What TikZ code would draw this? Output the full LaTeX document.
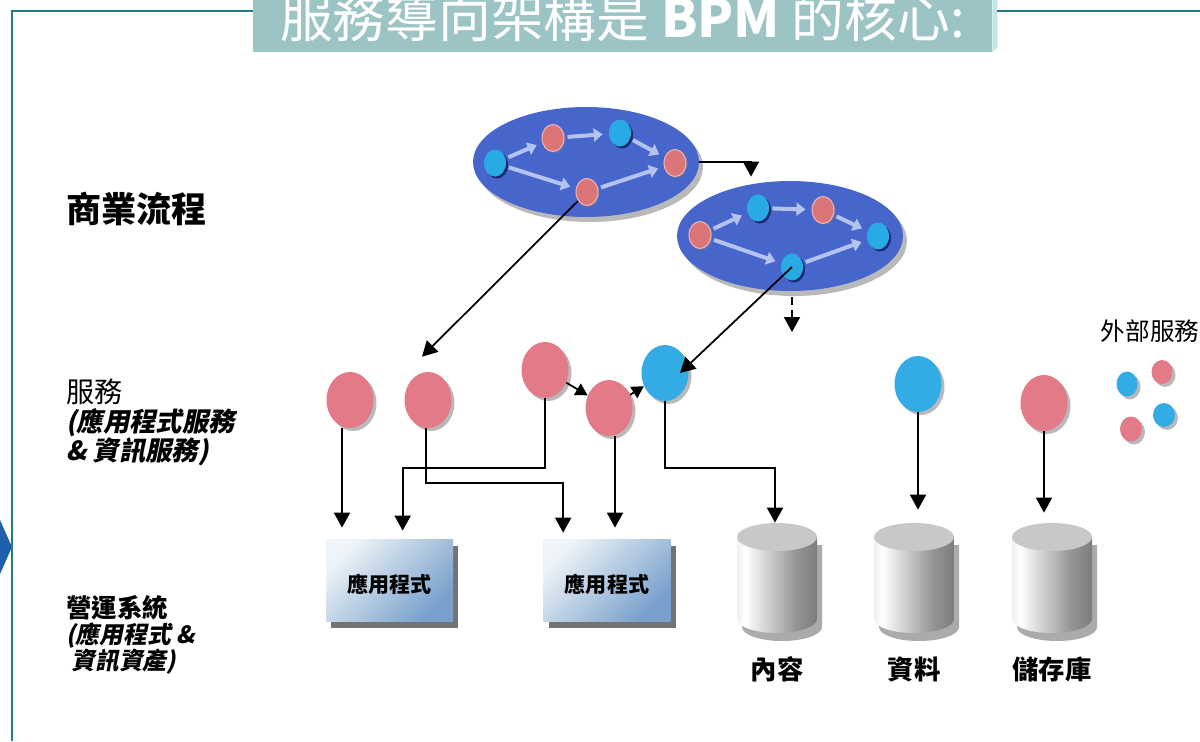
\documentclass[tikz,border=0pt]{standalone}
\usepackage{fontspec}
\setmainfont{Noto Sans CJK TC}
\newfontfamily\slantbf[FakeSlant=0.2,BoldFeatures={FakeSlant=0.2}]{Noto Sans CJK TC}
\usepackage{tikz}
\usetikzlibrary{positioning,shapes.geometric,shadows,arrows.meta}
\definecolor{frameteal}{RGB}{35,123,125}
\definecolor{titlebg}{RGB}{157,196,196}
\definecolor{titlebevel}{RGB}{192,230,230}
\definecolor{chevblue}{RGB}{30,96,172}
\definecolor{procblue}{RGB}{70,102,204}
\definecolor{ballpink}{RGB}{226,122,136}
\definecolor{ballblue}{RGB}{51,172,230}
\definecolor{dotpink}{RGB}{218,118,120}
\definecolor{dotrim}{RGB}{245,178,178}
\definecolor{dotblue}{RGB}{40,170,228}
\definecolor{flowgray}{RGB}{180,194,238}
\definecolor{applight}{RGB}{238,244,247}
\definecolor{appdark}{RGB}{120,160,204}
\definecolor{dbcap}{RGB}{200,200,200}
\pgfdeclarehorizontalshading{dbshade}{100bp}{color(0bp)=(black!38); color(30bp)=(white); color(62bp)=(black!42); color(100bp)=(black!68)}

\begin{document}
\begin{tikzpicture}[x=0.2mm,y=-0.2mm,inner sep=0pt,node distance=4.6mm]
\tikzstyle{frame}=[frameteal, line width=1.1pt]
\tikzstyle{titlebox}=[rectangle, fill=titlebg, text=white, minimum width=147.8mm, minimum height=14mm, font=\fontsize{30}{30}\selectfont]
\tikzstyle{process}=[ellipse, minimum width=45.2mm, minimum height=22mm, fill=procblue, drop shadow={shadow xshift=0.8mm, shadow yshift=-1mm, opacity=0.55}]
\tikzstyle{pdot}=[ellipse, minimum width=4.4mm, minimum height=5.4mm, fill=dotpink, draw=dotrim, line width=0.6pt, drop shadow={shadow xshift=0.3mm, shadow yshift=-0.3mm, opacity=0.5}]
\tikzstyle{bdot}=[ellipse, minimum width=4.4mm, minimum height=5.4mm, fill=dotblue, drop shadow={shadow xshift=0.4mm, shadow yshift=-0.4mm, fill=black!80!blue, opacity=0.6}]
\tikzstyle{flow}=[-{Triangle[length=1.8mm,width=2.6mm]}, flowgray, line width=0.8mm, shorten >=1.2mm, shorten <=0.6mm]
\tikzstyle{pinkball}=[ellipse, minimum width=9.4mm, minimum height=11.2mm, fill=ballpink, drop shadow={shadow xshift=0.6mm, shadow yshift=-0.6mm, opacity=0.55}]
\tikzstyle{blueball}=[pinkball, fill=ballblue]
\tikzstyle{app}=[rectangle, minimum width=25.4mm, minimum height=16.4mm, top color=applight, bottom color=appdark, shading angle=45, drop shadow={shadow xshift=1mm, shadow yshift=-1.4mm, fill=black!55, opacity=1}, font=\fontsize{12}{12}\selectfont\bfseries, text height=1.45em, text depth=0pt]
\tikzstyle{dbbox}=[rectangle, minimum width=16mm, minimum height=22mm]
\tikzstyle{dblabel}=[font=\fontsize{15}{15}\selectfont\bfseries]
\tikzstyle{lefttext}=[anchor=north west, align=left]
\tikzstyle{connect}=[-{Triangle[length=3mm,width=3.2mm]}, line width=1pt]
\tikzstyle{short}=[-{Triangle[length=2.4mm,width=2.6mm]}, line width=1pt]
\useasboundingbox (0,0) rectangle (1200,741);
\clip (0,0) rectangle (1200,741);

\node[titlebox] (title) at (622.5,17) {服務導向架構是 {\bfseries BPM} 的核心:};
\fill[titlebevel] (title.north east) -- ++(5,0) -- ([xshift=1mm,yshift=1mm]title.south east) -- (title.south east) -- cycle;
\fill[chevblue] (0,520) -- (12,547) -- (0,574) -- cycle;
\draw[frame] (253,11) -- (12,11) -- (12,741);
\draw[frame] (997,11) -- (1200,11);

\node[anchor=west, font=\fontsize{20}{22}\selectfont\bfseries] (lblproc) at (66,209) {商業流程};
\node[lefttext, font=\fontsize{15}{16.5}\selectfont] (lblsvc) at (66,378) {{\fontsize{16}{16.5}\selectfont 服務}\\{\slantbf\bfseries (應用程式服務}\\{\slantbf\bfseries \& 資訊服務)}};
\node[lefttext, font=\fontsize{13.5}{14.8}\selectfont] (lblops) at (66,595) {{\fontsize{14.5}{14.8}\selectfont\bfseries 營運系統}\\{\slantbf\bfseries (應用程式 \&}\\{\slantbf\bfseries \ 資訊資產)}};
\node[font=\fontsize{14}{14}\selectfont] (lblext) at (1150,331) {外部服務};

\node[process] (bp1) at (586,162) {};
\node[bdot] (p1a) at (495,163) {};
\node[pdot] (p1b) at (553,138) {};
\node[bdot] (p1c) at (620,133) {};
\node[pdot] (p1d) at (675,163) {};
\node[pdot] (p1e) at (587,192) {};
\foreach \u/\v in {a/b,b/c,c/d,a/e,e/d}
  \draw[flow] (p1\u) -- (p1\v);

\node[process] (bp2) at (790,236) {};
\node[pdot] (p2a) at (700,235) {};
\node[bdot] (p2b) at (758,208) {};
\node[pdot] (p2c) at (823,210) {};
\node[bdot] (p2d) at (878,236) {};
\node[bdot] (p2e) at (792,267) {};
\foreach \u/\v in {a/b,b/c,c/d,a/e,e/d}
  \draw[flow] (p2\u) -- (p2\v);

\draw[connect] (bp1.east) -| ([xshift=-7.8mm,yshift=0.8mm]bp2.north);
\coordinate (bpnext) at (792,332);
\draw[connect, dash pattern=on 1.6mm off 1mm] ([xshift=0.4mm,yshift=-1.2mm]bp2.south) -- (bpnext);

\node[pinkball] (s1) at (350,400) {};
\node[pinkball] (s2) at (428,400) {};
\node[pinkball] (s3) at (545,370) {};
\node[pinkball] (s4) at (609,408) {};
\node[blueball] (s5) at (665,373) {};
\node[blueball] (s6) at (918,384) {};
\node[pinkball] (s7) at (1044,403) {};

\node[blueball, minimum width=4.2mm, minimum height=5mm] (x1) at (1127,384) {};
\node[pinkball, minimum width=4.2mm, minimum height=4.8mm] (x2) at (1162,372) {};
\node[pinkball, minimum width=4.4mm, minimum height=5mm] (x3) at (1131,429) {};
\node[blueball, minimum width=4.4mm, minimum height=4.8mm] (x4) at (1164,415) {};

\node[app] (app1) at (389.5,580) {應用程式};
\node[app] (app2) at (607,580) {應用程式};

\foreach \n/\x/\t in {dbA/777/內容,dbB/914/資料,dbC/1052/儲存庫}{
  \fill[black!55, opacity=0.6] (\x-35,545) -- (\x-35,627) arc[start angle=180,end angle=0,x radius=40,y radius=14] -- (\x+45,545) -- cycle;
  \shade[shading=dbshade] (\x-40,537) -- (\x-40,619) arc[start angle=180,end angle=0,x radius=40,y radius=14] -- (\x+40,537) -- cycle;
  \fill[dbcap] (\x,537) ellipse [x radius=40,y radius=14];
  \node[dbbox] (\n) at (\x,578) {};
  \node[dblabel, below=of \n] (\n-t) {\t};
}

\draw[short] (s3) -- (s4);
\draw[short] (s4) -- (s5);
\draw[connect] ([xshift=-1.6mm]s1.south) -- ([xshift=-1.6mm,yshift=2.2mm]s1.south |- app1.north);
\draw[connect] ([xshift=-0.4mm]s2.south) -- ++(0,55) -| ([xshift=4mm,yshift=1.2mm]app2.north west);
\draw[connect] (s3.south) -- ++(0,70) -| ([xshift=15.4mm,yshift=1.6mm]app1.north west);
\draw[connect] ([xshift=1.2mm]s4.south) -- ([xshift=1.2mm,yshift=2.2mm]s4.south |- app2.north);
\draw[connect] (s5.south) -- ++(0,67) -| ([xshift=-0.4mm]dbA.north);
\draw[connect] (s6.south) -- ([yshift=2.6mm]s6.south |- dbB.north);
\draw[connect] (s7.south) -- ([yshift=2mm]s7.south |- dbC.north);

\draw[connect] (p1e) -- ([xshift=-1.2mm,yshift=3mm]s2.north);
\draw[connect] (p2e.center) -- ([xshift=3mm]s5.center);
\end{tikzpicture}
\end{document}
